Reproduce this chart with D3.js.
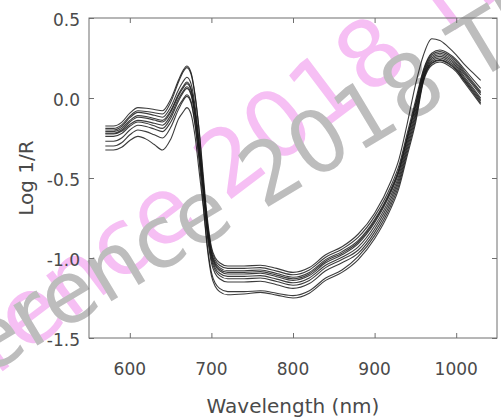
<!DOCTYPE html>
<head>
<meta charset="utf-8">
<title>Log 1/R spectra</title>
<script src="https://cdnjs.cloudflare.com/ajax/libs/d3/7.8.5/d3.min.js"></script>
<style>
body { margin: 0; background: #fff; }
text { font-family: "DejaVu Sans", sans-serif; }
</style>
</head>
<body>
<script>
// wavelength (nm) of each sample
var wl = [570, 580, 590, 600, 610, 620, 630, 640, 650, 660, 665, 670, 675, 680, 685, 690, 695, 700, 705, 710,
          720, 740, 760, 780, 800, 820, 840, 860, 880, 900, 920, 930, 940, 950, 960, 970, 980, 990, 1000, 1010, 1020, 1030];

// log 1/R for each spectrum
var s1 = [-0.175, -0.175, -0.152, -0.095, -0.06, -0.064, -0.072, -0.08, -0.01, 0.116, 0.17, 0.20, 0.16, 0.02, -0.20, -0.48, -0.75, -0.93, -1.00, -1.03,
          -1.05, -1.05, -1.045, -1.065, -1.09, -1.06, -0.98, -0.93, -0.85, -0.72, -0.52, -0.38, -0.16, 0.08, 0.27, 0.37, 0.36, 0.32, 0.27, 0.21, 0.16, 0.11];
var s2 = [-0.19, -0.19, -0.168, -0.113, -0.08, -0.084, -0.092, -0.10, -0.028, 0.103, 0.16, 0.19, 0.15, 0.01, -0.21, -0.515, -0.775, -0.945, -1.015, -1.045,
          -1.065, -1.065, -1.06, -1.082, -1.105, -1.075, -0.995, -0.945, -0.87, -0.74, -0.55, -0.42, -0.22, -0.02, 0.18, 0.28, 0.30, 0.28, 0.24, 0.18, 0.12, 0.06];
var s3 = [-0.20, -0.20, -0.178, -0.123, -0.09, -0.096, -0.108, -0.12, -0.058, 0.055, 0.10, 0.13, 0.09, -0.05, -0.27, -0.53, -0.79, -0.96, -1.03, -1.06,
          -1.08, -1.08, -1.075, -1.097, -1.12, -1.09, -1.01, -0.96, -0.89, -0.76, -0.57, -0.44, -0.24, -0.04, 0.17, 0.27, 0.29, 0.27, 0.23, 0.167, 0.103, 0.04];
var s4 = [-0.21, -0.21, -0.19, -0.14, -0.11, -0.116, -0.128, -0.14, -0.08, 0.028, 0.07, 0.10, 0.06, -0.08, -0.30, -0.54, -0.80, -0.97, -1.04, -1.07,
          -1.09, -1.09, -1.085, -1.107, -1.13, -1.10, -1.02, -0.97, -0.90, -0.77, -0.58, -0.45, -0.25, -0.05, 0.16, 0.26, 0.28, 0.26, 0.22, 0.157, 0.093, 0.03];
var s5 = [-0.22, -0.22, -0.20, -0.15, -0.12, -0.126, -0.138, -0.15, -0.09, 0.018, 0.06, 0.09, 0.05, -0.09, -0.31, -0.55, -0.81, -0.98, -1.05, -1.08,
          -1.10, -1.10, -1.095, -1.117, -1.14, -1.11, -1.03, -0.98, -0.91, -0.78, -0.59, -0.46, -0.26, -0.06, 0.15, 0.25, 0.27, 0.25, 0.21, 0.147, 0.083, 0.02];
var s6 = [-0.225, -0.225, -0.208, -0.166, -0.14, -0.146, -0.158, -0.17, -0.11, -0.002, 0.04, 0.07, 0.03, -0.11, -0.33, -0.565, -0.825, -0.995, -1.065, -1.095,
          -1.115, -1.115, -1.11, -1.132, -1.155, -1.125, -1.045, -0.995, -0.93, -0.80, -0.61, -0.48, -0.28, -0.08, 0.14, 0.24, 0.26, 0.24, 0.20, 0.133, 0.067, 0.00];
var s7 = [-0.24, -0.24, -0.222, -0.177, -0.15, -0.158, -0.174, -0.19, -0.128, -0.015, 0.03, 0.06, 0.02, -0.12, -0.34, -0.58, -0.84, -1.01, -1.08, -1.11,
          -1.13, -1.13, -1.125, -1.147, -1.17, -1.14, -1.06, -1.01, -0.95, -0.82, -0.63, -0.50, -0.30, -0.10, 0.13, 0.23, 0.25, 0.23, 0.19, 0.123, 0.057, -0.01];
var s8 = [-0.27, -0.27, -0.25, -0.20, -0.17, -0.178, -0.194, -0.21, -0.152, -0.049, -0.01, 0.02, -0.02, -0.16, -0.38, -0.60, -0.86, -1.03, -1.10, -1.13,
          -1.15, -1.15, -1.145, -1.167, -1.19, -1.16, -1.08, -1.03, -0.97, -0.84, -0.65, -0.52, -0.32, -0.12, 0.12, 0.22, 0.24, 0.22, 0.18, 0.113, 0.047, -0.02];
var s9 = [-0.30, -0.30, -0.28, -0.23, -0.20, -0.21, -0.23, -0.25, -0.185, -0.068, -0.02, 0.01, -0.03, -0.17, -0.39, -0.66, -0.92, -1.09, -1.16, -1.19,
          -1.21, -1.21, -1.205, -1.22, -1.235, -1.205, -1.125, -1.075, -0.99, -0.86, -0.67, -0.54, -0.34, -0.14, 0.115, 0.215, 0.235, 0.215, 0.175, 0.107, 0.038, -0.03];
var s10 = [-0.325, -0.325, -0.308, -0.266, -0.24, -0.257, -0.291, -0.325, -0.259, -0.128, -0.09, -0.06, -0.10, -0.24, -0.46, -0.68, -0.94, -1.11, -1.18, -1.21,
          -1.23, -1.225, -1.215, -1.232, -1.25, -1.22, -1.14, -1.09, -1.01, -0.88, -0.69, -0.56, -0.36, -0.16, 0.105, 0.205, 0.225, 0.205, 0.165, 0.097, 0.028, -0.04];
var spectra = [s1, s2, s3, s4, s5, s6, s7, s8, s9, s10];

var xTicks = [600, 700, 800, 900, 1000];
var yTicks = [0.5, 0.0, -0.5, -1.0, -1.5];
var yLabels = ["0.5", "0.0", "-0.5", "-1.0", "-1.5"];

var W = 501, H = 419;
var L = 89, R = 497, T = 18, B = 338;

var svg = d3.select("body").append("svg")
    .attr("width", W)
    .attr("height", H);

var x = d3.scaleLinear().domain([550, 1050]).range([L, R]);
var y = d3.scaleLinear().domain([-1.5, 0.5]).range([B, T]);

// watermark behind the plot
var wm = svg.append("g").attr("font-family", "Liberation Sans, sans-serif");
function stamp(cx, cy, rot, size, col) {
  var g = wm.append("g").attr("transform", "translate(" + cx + "," + cy + ") rotate(" + rot + ")")
      .attr("font-size", size).attr("fill", col);
  g.append("text").attr("x", -30).attr("text-anchor", "end").text("Reference");
  g.append("text").attr("x", 0).attr("text-anchor", "start").text("2018 Th");
}
stamp(226, 203, -37, 92, "#f6bff4");
stamp(263, 210, -31, 86, "#bdbdbd");

// frame with inward ticks on all four sides
var axCol = "#6f6f6f";
svg.append("rect")
    .attr("x", L).attr("y", T)
    .attr("width", R - L).attr("height", B - T)
    .attr("fill", "none").attr("stroke", axCol).attr("stroke-width", 1);

function ax(gen, tx, ty) {
  var g = svg.append("g").attr("transform", "translate(" + tx + "," + ty + ")").call(gen);
  g.select(".domain").remove();
  g.selectAll(".tick line").attr("stroke", axCol);
  return g;
}
ax(d3.axisBottom(x).tickValues(xTicks).tickSize(-5).tickFormat(""), 0, B);
ax(d3.axisTop(x).tickValues(xTicks).tickSize(-5).tickFormat(""), 0, T);
ax(d3.axisLeft(y).tickValues(yTicks).tickSize(-5).tickFormat(""), L, 0);
ax(d3.axisRight(y).tickValues(yTicks).tickSize(-5).tickFormat(""), R, 0);

// tick labels
svg.append("g").selectAll("text").data(xTicks).enter().append("text")
    .attr("x", function(d){ return x(d); })
    .attr("y", 375)
    .attr("text-anchor", "middle")
    .attr("font-size", 17)
    .attr("fill", "#4a4a4a")
    .text(function(d){ return d; });

svg.append("g").selectAll("text").data(yTicks).enter().append("text")
    .attr("x", 80)
    .attr("y", function(d){ return y(d) + 8; })
    .attr("text-anchor", "end")
    .attr("font-size", 17)
    .attr("fill", "#4a4a4a")
    .text(function(d, i){ return yLabels[i]; });

svg.append("text")
    .attr("x", (L + R) / 2)
    .attr("y", 413)
    .attr("text-anchor", "middle")
    .attr("font-size", 20)
    .attr("fill", "#4a4a4a")
    .text("Wavelength (nm)");

svg.append("text")
    .attr("transform", "translate(33,178) rotate(-90)")
    .attr("text-anchor", "middle")
    .attr("font-size", 20)
    .attr("fill", "#4a4a4a")
    .text("Log 1/R");

// spectra
var line = d3.line()
    .x(function(d, i){ return x(wl[i]); })
    .y(function(d){ return y(d); })
    .curve(d3.curveMonotoneX);

svg.append("g").selectAll("path").data(spectra).enter().append("path")
    .attr("d", line)
    .attr("fill", "none")
    .attr("stroke", "#1a1a1a")
    .attr("stroke-width", 1.1)
    .attr("stroke-opacity", 0.85);
</script>
</body>
